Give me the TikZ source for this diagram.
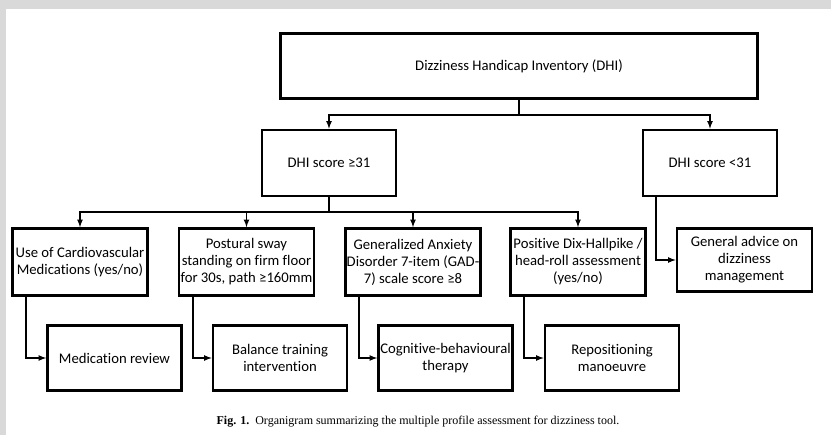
\documentclass[tikz,border=0pt]{standalone}
\usepackage{fontspec}
\setmainfont{Carlito}[Ligatures=NoCommon]
\newfontfamily\capfont{Liberation Serif}
\begin{document}
\begin{tikzpicture}[>=latex, x=1pt, y=-1pt,
  box/.style={draw, line width=2.6pt, align=center, inner sep=0pt, font=\fontsize{14.7}{17}\selectfont},
  topbox/.style={box, minimum width=134, minimum height=66},
  testbox/.style={box, minimum width=135, minimum height=67},
  actbox/.style={box, minimum width=134, minimum height=65},
  link/.style={->, line width=1.6pt}]
\fill[gray!30] (0,0) rectangle (831,435);
\fill[white] (6,9) rectangle (831,435);
\useasboundingbox (0,0) rectangle (831,435);
\node[box, minimum width=477, minimum height=65] (dhi) at (519,66) {Dizziness Handicap Inventory (DHI)};
\node[topbox] (high) at (329,163) {DHI score ≥31};
\node[topbox] (low) at (710,163) {DHI score <31};
\node[testbox] (med) at (80,262) {Use of Cardiovascular\\Medications (yes/no)};
\node[testbox] (sway) at (246.5,262) {Postural sway\\standing on firm floor\\for 30s, path ≥160mm};
\node[testbox] (gad) at (413,262) {Generalized Anxiety\\Disorder 7-item (GAD-\\7) scale score ≥8};
\node[testbox] (dix) at (578,262) {Positive Dix-Hallpike /\\head-roll assessment\\(yes/no)};
\node[testbox, minimum height=63] (advice) at (744.5,260) {General advice on\\dizziness\\management};
\node[actbox] (review) at (114.5,358) {Medication review};
\node[actbox] (balance) at (280,358) {Balance training\\intervention};
\node[actbox] (cbt) at (445.5,358) {Cognitive-behavioural\\therapy};
\node[actbox] (repos) at (612,358) {Repositioning\\manoeuvre};
\node[font=\capfont\fontsize{12}{14}\selectfont] (caption) at (418,422) {\textbf{Fig. 1.}\ \ Organigram summarizing the multiple profile assessment for dizziness tool.};
\coordinate (fork1) at (519,115);
\coordinate (fork2) at (329,212);
\draw[link,-] (dhi) -- (fork1);
\draw[link] (fork1) -| (high);
\draw[link] (fork1) -| (low);
\draw[link,-] (high) -- (fork2);
\foreach \n in {med,sway,gad,dix} \draw[link] (fork2) -| (\n);
\foreach \a/\b in {med/review,sway/balance,gad/cbt,dix/repos} \draw[link] ([xshift=15pt]\a.south west) |- (\b);
\draw[link] ([xshift=14pt]low.south west) |- (advice);
\end{tikzpicture}
\end{document}
